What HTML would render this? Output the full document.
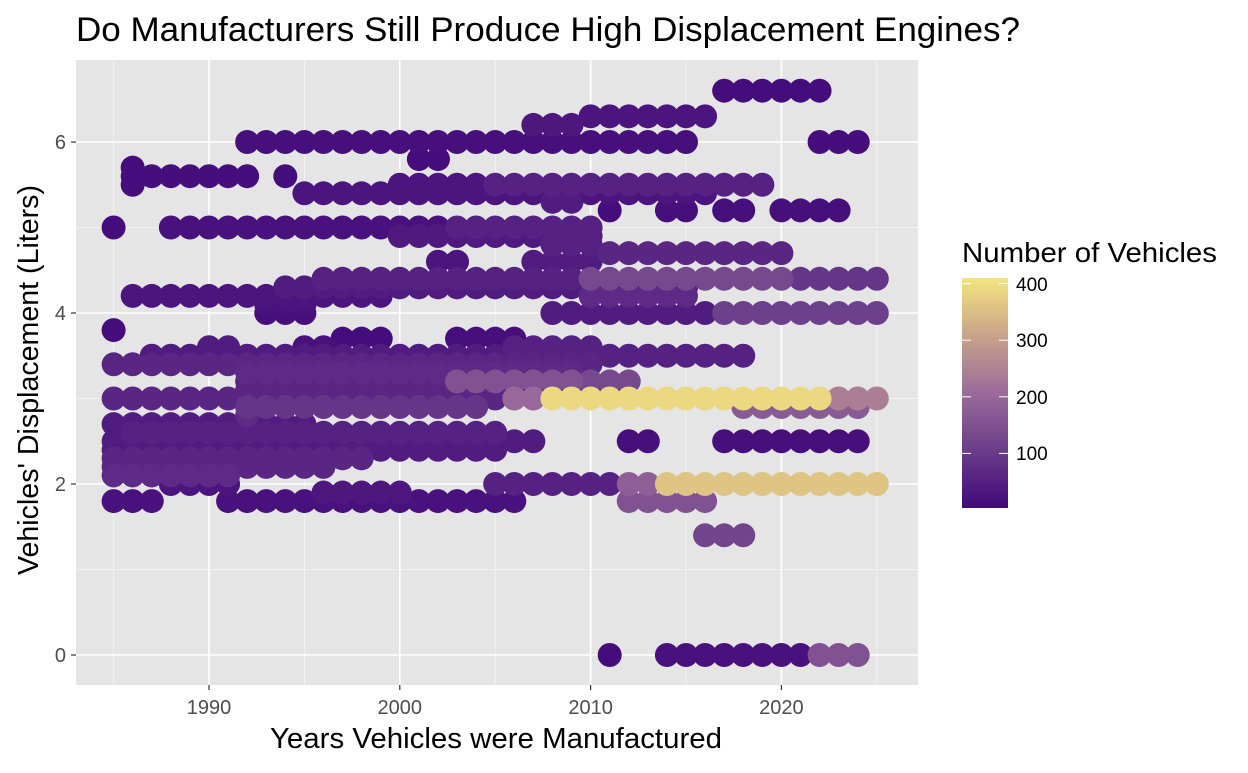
<!DOCTYPE html>
<html><head><meta charset="utf-8"><style>
body{margin:0;background:#fff;font-family:"Liberation Sans",Arial,sans-serif;}
svg text{font-family:"Liberation Sans",Arial,sans-serif;}
</style></head><body>
<svg id="c" width="1248" height="768" xmlns="http://www.w3.org/2000/svg">
<defs><linearGradient id="lgrad" x1="0" y1="1" x2="0" y2="0">
<stop offset="0" stop-color="#42087a"/><stop offset="0.25" stop-color="#6a3d8a"/><stop offset="0.5" stop-color="#9a6b9a"/><stop offset="0.75" stop-color="#c9a38a"/><stop offset="1" stop-color="#f3e57f"/></linearGradient></defs>
<text x="76" y="41" font-size="34" textLength="944" lengthAdjust="spacingAndGlyphs" fill="#000">Do Manufacturers Still Produce High Displacement Engines?</text>
<rect x="76" y="60" width="842" height="625" fill="#e5e5e5"/>
<g id="grid"></g><g id="pts"></g><g id="axes"></g>
<text x="496" y="748" font-size="29" text-anchor="middle" textLength="452" lengthAdjust="spacingAndGlyphs">Years Vehicles were Manufactured</text>
<text transform="translate(38,380) rotate(-90)" font-size="29" text-anchor="middle" textLength="390" lengthAdjust="spacingAndGlyphs">Vehicles' Displacement (Liters)</text>
<text x="962" y="262" font-size="28" textLength="255" lengthAdjust="spacingAndGlyphs">Number of Vehicles</text>
<rect x="962" y="278" width="46" height="230" fill="url(#lgrad)"/>
<g stroke="#fff" stroke-width="1">
<line x1="962" x2="971" y1="453.4" y2="453.4"/><line x1="999" x2="1008" y1="453.4" y2="453.4"/>
<line x1="962" x2="971" y1="396.8" y2="396.8"/><line x1="999" x2="1008" y1="396.8" y2="396.8"/>
<line x1="962" x2="971" y1="340.2" y2="340.2"/><line x1="999" x2="1008" y1="340.2" y2="340.2"/>
<line x1="962" x2="971" y1="283.6" y2="283.6"/><line x1="999" x2="1008" y1="283.6" y2="283.6"/>
</g>
<text x="1016" y="460" font-size="19" fill="#000">100</text>
<text x="1016" y="404" font-size="19" fill="#000">200</text>
<text x="1016" y="347" font-size="19" fill="#000">300</text>
<text x="1016" y="291" font-size="19" fill="#000">400</text>
</svg>
<script>
// rows: displacement, start year, end year, count
const rowDisp = [6.6,6.3,6.2,6.0,6.0,5.8,5.7,5.6,5.6,5.5,5.5,5.5,5.4,5.3,5.2,5.2,5.2,5.2,5.0,5.0,5.0,4.9,4.8,4.7,4.6,4.6,4.4,4.4,4.4,4.3,4.2,4.2,4.1,4.0,4.0,4.0,3.8,3.7,3.7,3.6,3.6,3.6,3.5,3.5,3.4,3.3,3.2,3.2,3.2,3.1,3.0,3.0,3.0,3.0,2.9,2.9,2.8,2.7,2.6,2.5,2.5,2.5,2.4,2.3,2.2,2.1,2.0,2.0,2.0,2.0,1.9,1.8,1.8,1.8,1.4,0,0,0];
const rowStart = [2017,2010,2007,1992,2022,2001,1986,1986,1994,1986,2000,2005,1995,2008,2011,2014,2017,2020,1985,1988,2003,2000,2008,2011,2002,2007,1996,2010,2021,1994,1986,2010,1993,1993,2008,2017,1985,1997,2003,1990,1995,2006,1987,2006,1985,1992,1992,2003,2010,1992,1985,2006,2008,2023,1992,2018,1992,1985,1986,1985,2012,2017,1985,1985,1985,1985,1988,2005,2012,2014,1996,1985,1991,2012,2016,2011,2014,2022];
const rowEnd = [2022,2016,2009,2015,2024,2002,1986,1992,1994,1986,2004,2019,2016,2009,2011,2015,2018,2023,1985,2002,2010,2010,2010,2020,2003,2010,2009,2020,2025,2015,1999,2015,1995,1995,2016,2025,1985,1999,2006,1991,1996,2010,2005,2018,2010,2009,2002,2009,2012,2011,2005,2007,2022,2025,2004,2024,1992,1995,2005,2007,2013,2024,2005,1998,1996,1991,1991,2011,2013,2025,2000,1987,2006,2016,2018,2011,2021,2024];
const rowCount = [10,25,30,15,12,10,10,12,12,10,25,50,25,40,10,15,15,15,10,20,50,35,50,60,25,40,50,130,90,40,25,70,20,15,40,110,10,10,15,40,20,50,40,50,60,70,50,150,130,60,60,200,390,240,90,170,70,40,50,40,15,15,40,60,60,70,25,50,180,360,30,20,20,150,120,10,20,150];
const xTicks=[1990,2000,2010,2020], yTicks=[0,2,4,6];
const X=v=>113.6+(v-1985)*19.08, Y=v=>655-v*85.5;
const NS="http://www.w3.org/2000/svg";
function mk(t,a,p){const e=document.createElementNS(NS,t);for(const k in a)e.setAttribute(k,a[k]);p.appendChild(e);return e;}
const stops=[[0,[66,8,122]],[0.25,[106,61,138]],[0.5,[154,107,154]],[0.75,[201,163,138]],[1,[243,229,127]]];
function col(c){let t=Math.max(0,Math.min(1,(c-2)/408));for(let i=1;i<stops.length;i++){if(t<=stops[i][0]){const a=stops[i-1],b=stops[i],f=(t-a[0])/(b[0]-a[0]);return 'rgb('+a[1].map((v,j)=>Math.round(v+(b[1][j]-v)*f)).join(',')+')';}}return 'rgb(243,229,127)';}
const g=document.getElementById('grid');
for(let v=1985;v<=2025;v+=10){const l=mk('line',{x1:X(v),x2:X(v),y1:60,y2:685,stroke:'#f4f4f4','stroke-width':0.8},g);}
for(const v of [1,3,5]){const l=mk('line',{x1:76,x2:918,y1:Y(v),y2:Y(v),stroke:'#f4f4f4','stroke-width':0.8},g);}
const ax=document.getElementById('axes');
xTicks.forEach(v=>{const l=mk('line',{x1:X(v),x2:X(v),y1:60,y2:685,stroke:'#fff','stroke-width':1.6},g);
mk('line',{x1:X(v),x2:X(v),y1:685,y2:690,stroke:'#333','stroke-width':1.2},ax);
const t=mk('text',{x:X(v),y:714,'font-size':20,fill:'#4d4d4d','text-anchor':'middle'},ax);t.textContent=v;});
yTicks.forEach(v=>{const l=mk('line',{x1:76,x2:918,y1:Y(v),y2:Y(v),stroke:'#fff','stroke-width':1.6},g);
mk('line',{x1:71,x2:76,y1:Y(v),y2:Y(v),stroke:'#333','stroke-width':1.2},ax);
const t=mk('text',{x:66,y:Y(v)+7,'font-size':20,fill:'#4d4d4d','text-anchor':'end'},ax);t.textContent=v;});
const pts=[];rowDisp.forEach((d,i)=>{for(let y=rowStart[i];y<=rowEnd[i];y++)pts.push([y,d,rowCount[i]]);});
pts.sort((a,b)=>a[2]-b[2]);
const pg=document.getElementById('pts');
pts.forEach(p=>{const c=mk('circle',{cx:X(p[0]),cy:Y(p[1]),r:12,fill:col(p[2])},pg);

});
</script>
</body></html>
